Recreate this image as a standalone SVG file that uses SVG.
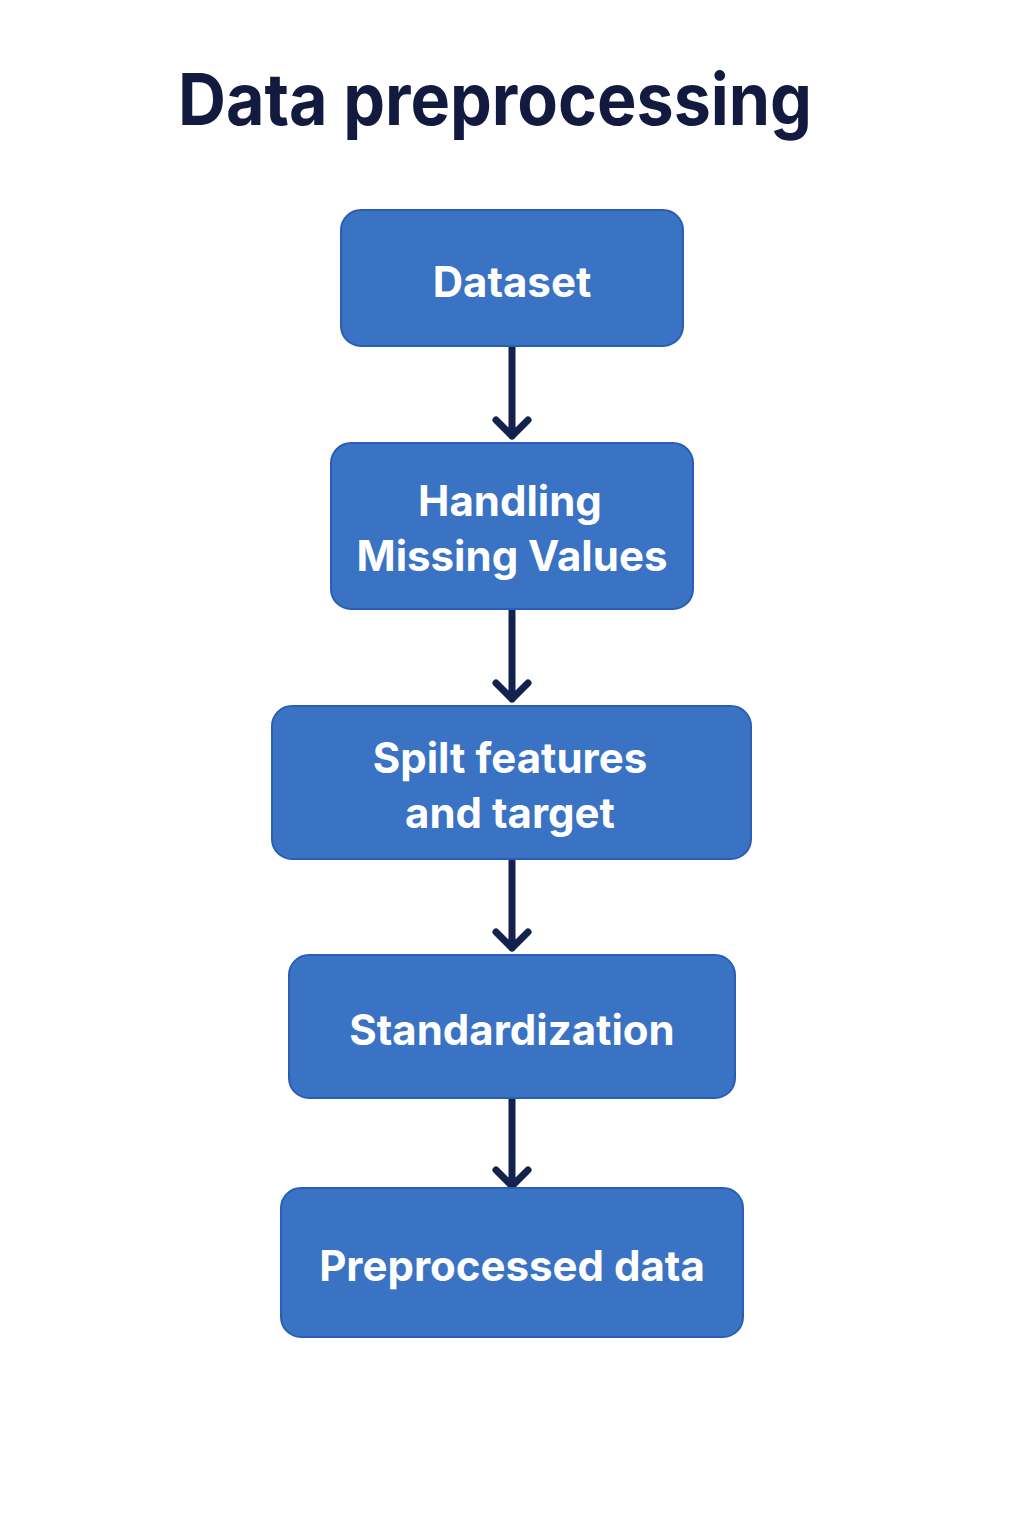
<svg xmlns="http://www.w3.org/2000/svg" width="1024" height="1536" viewBox="0 0 1024 1536">
<defs>
<style>
.box{fill:#3A72C4;stroke:#2A5DB8;stroke-width:2}
.lbl{fill:#FFFFFF;font-family:Inter,"Noto Sans",sans-serif;font-weight:700;font-size:42px;text-anchor:middle}
.title{fill:#131A40;font-family:Inter,"Noto Sans",sans-serif;font-weight:700;font-size:72px}
.conn{stroke:#14224E;stroke-width:7;fill:none;stroke-linecap:round;stroke-linejoin:round}
</style>
</defs>
<rect width="1024" height="1536" fill="#FFFFFF"/>
<text class="title" x="178" y="125" textLength="634" lengthAdjust="spacingAndGlyphs">Data preprocessing</text>
<g id="connectors">
<path class="conn" d="M512 346V436M496 420L512 436L528 420"/>
<path class="conn" d="M512 609V699M496 683L512 699L528 683"/>
<path class="conn" d="M512 859V948M496 932L512 948L528 932"/>
<path class="conn" d="M512 1098V1186M496 1170L512 1186L528 1170"/>
</g>
<g id="node-dataset">
<rect class="box" x="341" y="210" width="342" height="136" rx="20"/>
<text class="lbl" x="512" y="297">Dataset</text>
</g>
<g id="node-missing">
<rect class="box" x="331" y="443" width="362" height="166" rx="20"/>
<text class="lbl" x="510" y="516">Handling</text>
<text class="lbl" x="512" y="571">Missing Values</text>
</g>
<g id="node-split">
<rect class="box" x="272" y="706" width="479" height="153" rx="20"/>
<text class="lbl" x="510" y="773">Spilt features</text>
<text class="lbl" x="510" y="828">and target</text>
</g>
<g id="node-standardization">
<rect class="box" x="289" y="955" width="446" height="143" rx="20"/>
<text class="lbl" x="512" y="1045">Standardization</text>
</g>
<g id="node-preprocessed">
<rect class="box" x="281" y="1188" width="462" height="149" rx="20"/>
<text class="lbl" x="512" y="1281">Preprocessed data</text>
</g>
</svg>
